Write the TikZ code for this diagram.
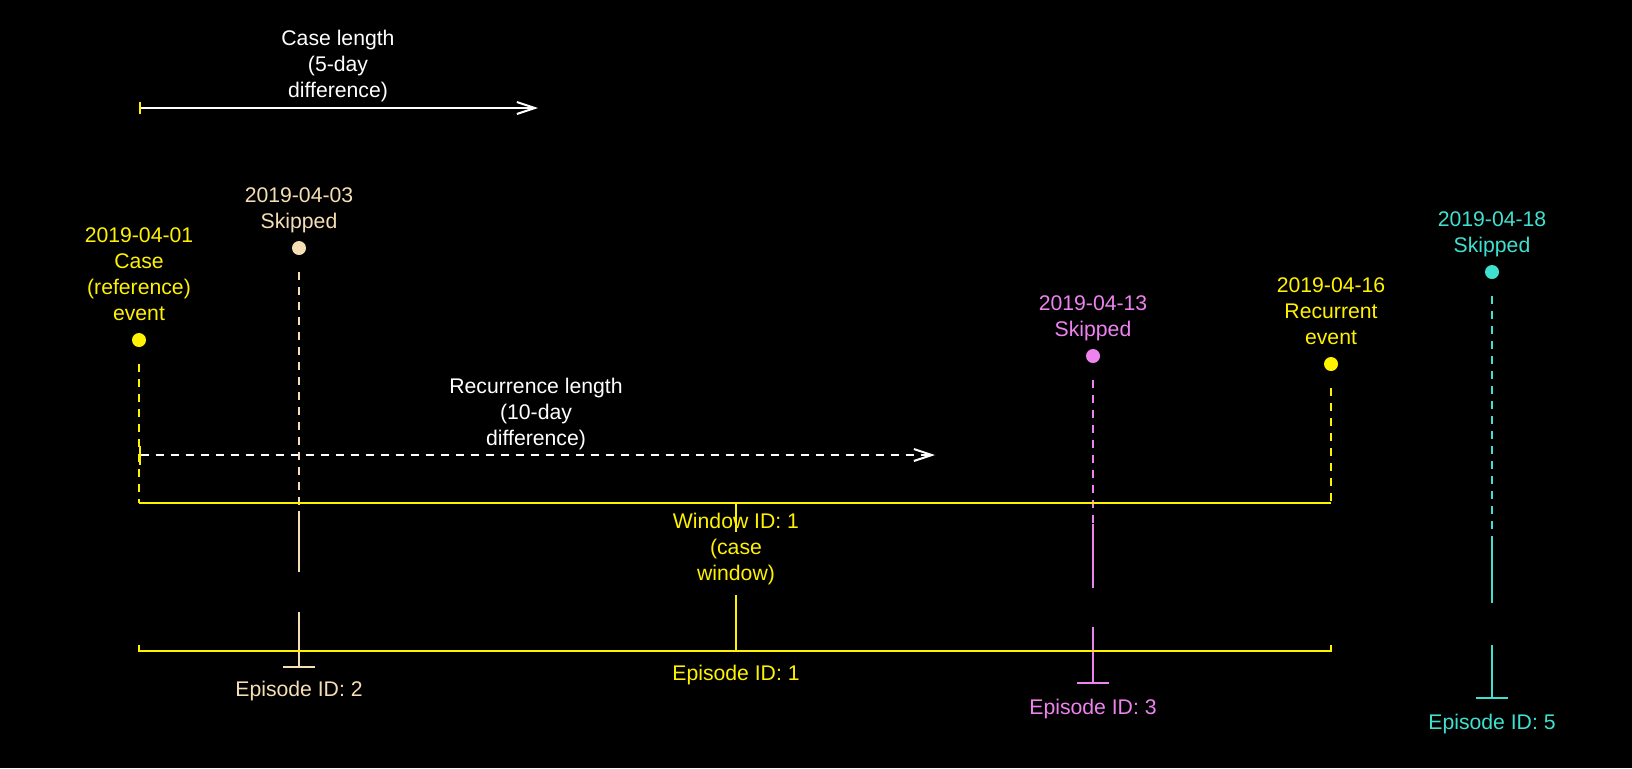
\documentclass[tikz,border=0pt]{standalone}
\usepackage{fontspec}
\setmainfont{Liberation Sans}
\usetikzlibrary{arrows.meta,positioning}

\definecolor{wheatc}{HTML}{F5DEB3}
\definecolor{violetc}{HTML}{EE82EE}
\definecolor{turqc}{HTML}{40E0D0}

\tikzset{
  every node/.style={font=\fontsize{10.6}{13}\selectfont},
  evdot/.style={circle, fill=#1, inner sep=0pt, minimum size=7pt},
  evtext/.style={text=#1, align=center, inner sep=0pt, text depth=0pt},
  lead/.style={draw=#1, line width=1pt, dash pattern=on 4pt off 3.5pt},
  stem/.style={draw=#1, line width=1pt},
  span/.style={draw=white, line width=1pt,
    {Bar[color=yellow,width=#1]}-{Straight Barb[length=9pt,width=6pt]}}
}

\begin{document}
\begin{tikzpicture}[x=0.5pt, y=-0.5pt]
  \fill[black] (0,0) rectangle (1632,768);
  \useasboundingbox (0,0) rectangle (1632,768);

  % Events
  \node[evdot=yellow] (a) at (139,340) {};
  \node[evdot=wheatc] (b) at (299,248) {};
  \node[evdot=violetc] (c) at (1093,356) {};
  \node[evdot=yellow] (d) at (1331,364) {};
  \node[evdot=turqc] (e) at (1492,272) {};

  \node[evtext=yellow, above=5.7pt of a] (a-lab) {2019-04-01\\Case\\(reference)\\event};
  \node[evtext=wheatc, above=5.7pt of b] (b-lab) {2019-04-03\\Skipped};
  \node[evtext=violetc, above=5.7pt of c] (c-lab) {2019-04-13\\Skipped};
  \node[evtext=yellow, above=5.7pt of d] (d-lab) {2019-04-16\\Recurrent\\event};
  \node[evtext=turqc, above=5.7pt of e] (e-lab) {2019-04-18\\Skipped};

  % Case length
  \coordinate (case-s) at (139,108);
  \coordinate (case-e) at (538,108);
  \draw[span=6pt] (case-s) -- (case-e);
  \node[text=white, align=center] (case-lab) at (338,66) {Case length\\(5-day\\difference)};

  % Recurrence length
  \coordinate (rec-s) at (139,455);
  \coordinate (rec-e) at (935,455);
  \draw[span=9.5pt, dash pattern=on 4pt off 3.5pt] (rec-s) -- (rec-e);
  \node[text=white, align=center] (rec-lab) at (536,414) {Recurrence length\\(10-day\\difference)};

  % Skipped 2019-04-03
  \coordinate (b-w) at (299,511);
  \coordinate (b-g1) at (299,572);
  \coordinate (b-g2) at (299,612);
  \coordinate (b-ep) at (299,667);
  \draw[lead=wheatc] ([yshift=-12pt]b.center) -- (b-w);
  \draw[stem=wheatc] (b-w) -- (b-g1);
  \draw[stem=wheatc] (b-g2) -- (b-ep);
  \draw[stem=wheatc] ([xshift=-8pt]b-ep) -- ([xshift=8pt]b-ep);
  \node[text=wheatc] (b-ep-lab) at (299,691) {Episode ID: 2};

  % Skipped 2019-04-13
  \coordinate (c-w) at (1093,524);
  \coordinate (c-g1) at (1093,588);
  \coordinate (c-g2) at (1093,627);
  \coordinate (c-ep) at (1093,683);
  \draw[lead=violetc] ([yshift=-12pt]c.center) -- (c-w);
  \draw[stem=violetc] (c-w) -- (c-g1);
  \draw[stem=violetc] (c-g2) -- (c-ep);
  \draw[stem=violetc] ([xshift=-8pt]c-ep) -- ([xshift=8pt]c-ep);
  \node[text=violetc] (c-ep-lab) at (1093,709) {Episode ID: 3};

  % Skipped 2019-04-18
  \coordinate (e-w) at (1492,536);
  \coordinate (e-g1) at (1492,603);
  \coordinate (e-g2) at (1492,645);
  \coordinate (e-ep) at (1492,698);
  \draw[lead=turqc] ([yshift=-12pt]e.center) -- (e-w);
  \draw[stem=turqc] (e-w) -- (e-g1);
  \draw[stem=turqc] (e-g2) -- (e-ep);
  \draw[stem=turqc] ([xshift=-8pt]e-ep) -- ([xshift=8pt]e-ep);
  \node[text=turqc] (e-ep-lab) at (1492,724) {Episode ID: 5};

  % Window 1 and episode 1
  \coordinate (w1-l) at (139,503);
  \coordinate (w1-r) at (1331,503);
  \coordinate (w1-m) at (736,503);
  \coordinate (w1-g1) at (736,532);
  \coordinate (w1-g2) at (736,595);
  \coordinate (ep1-l) at (139,651);
  \coordinate (ep1-r) at (1331,651);
  \coordinate (ep1-m) at (736,651);
  \draw[lead=yellow] ([yshift=-12pt]a.center) -- (w1-l);
  \draw[lead=yellow] ([yshift=-12pt]d.center) -- (w1-r);
  \draw[stem=yellow] (w1-l) -- (w1-r);
  \draw[stem=yellow] (w1-m) -- (w1-g1);
  \draw[stem=yellow] (w1-g2) -- (ep1-m);
  \draw[stem=yellow] ([yshift=3pt]ep1-l) -- (ep1-l) -- (ep1-r) -- ([yshift=3pt]ep1-r);
  \node[text=yellow, align=center] (w1-lab) at (736,549) {Window ID: 1\\(case\\window)};
  \node[text=yellow] (ep1-lab) at (736,675) {Episode ID: 1};
\end{tikzpicture}
\end{document}
